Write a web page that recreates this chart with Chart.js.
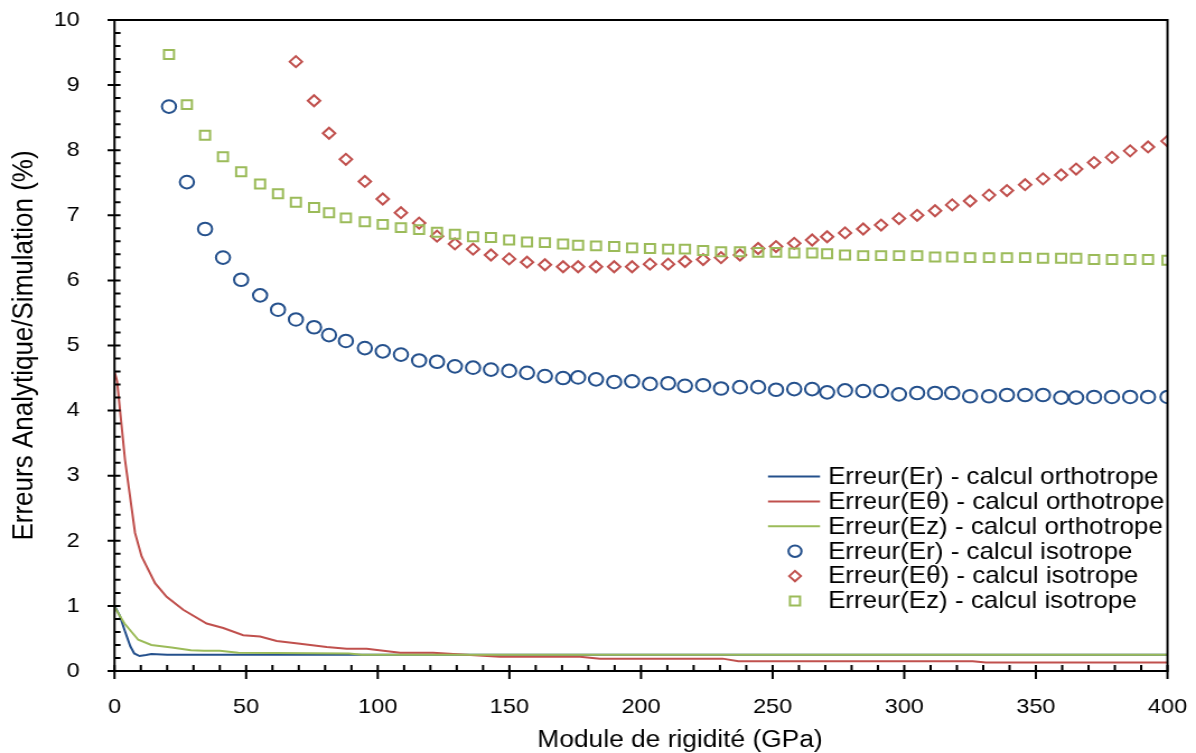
<!DOCTYPE html>
<html>
<head>
<meta charset="utf-8">
<script src="https://cdn.jsdelivr.net/npm/chart.js@4.4.1/dist/chart.umd.min.js"></script>
<style>
  html, body { margin: 0; padding: 0; background: #fff; }
  /* le graphique d'origine est étiré horizontalement, on fait pareil */
  #c { width: 1196px !important; height: 753px !important; display: block; }
</style>
</head>
<body>
<canvas id="c" width="1068" height="753" style="width:1196px;height:753px"></canvas>
<script>
// abscisses des points "isotrope" (GPa)
var isoX = [20.7, 27.5, 34.4, 41.2, 48.1, 55.3, 62.1, 68.9, 75.8, 81.5,
    87.9, 95.1, 101.9, 108.8, 115.7, 122.5, 129.3, 136.2, 143.0, 149.9,
    156.7, 163.5, 170.4, 176.1, 182.9, 189.8, 196.6, 203.4, 210.3, 216.7,
    223.6, 230.4, 237.6, 244.5, 251.3, 258.2, 265.0, 270.7, 277.5, 284.4,
    291.2, 298.0, 304.9, 311.7, 318.2, 325.0, 332.2, 339.0, 345.9, 352.7,
    359.6, 365.3, 372.1, 378.9, 385.8, 392.6, 400];
var isoEr = [8.67, 7.51, 6.79, 6.35, 6.01, 5.77, 5.55, 5.40, 5.28, 5.16,
    5.07, 4.96, 4.91, 4.86, 4.77, 4.75, 4.68, 4.66, 4.63, 4.61,
    4.58, 4.53, 4.50, 4.51, 4.48, 4.44, 4.45, 4.41, 4.42, 4.38,
    4.39, 4.34, 4.36, 4.36, 4.32, 4.33, 4.33, 4.28, 4.31, 4.30,
    4.30, 4.25, 4.27, 4.27, 4.27, 4.22, 4.22, 4.24, 4.24, 4.24,
    4.20, 4.20, 4.21, 4.21, 4.21, 4.21, 4.21];
var isoEth = [null, null, null, null, null, null, null, 9.36, 8.76, 8.26,
    7.86, 7.52, 7.25, 7.04, 6.88, 6.68, 6.56, 6.48, 6.39, 6.33,
    6.28, 6.24, 6.21, 6.21, 6.21, 6.21, 6.21, 6.25, 6.25, 6.29,
    6.32, 6.35, 6.39, 6.49, 6.52, 6.57, 6.62, 6.67, 6.73, 6.79,
    6.85, 6.95, 7.00, 7.07, 7.16, 7.22, 7.31, 7.38, 7.47, 7.56,
    7.62, 7.71, 7.81, 7.89, 7.99, 8.05, 8.14];
var isoEz = [9.47, 8.70, 8.23, 7.90, 7.67, 7.48, 7.33, 7.20, 7.12, 7.04,
    6.96, 6.90, 6.86, 6.81, 6.78, 6.74, 6.71, 6.67, 6.66, 6.62,
    6.59, 6.58, 6.56, 6.54, 6.53, 6.52, 6.50, 6.49, 6.48, 6.48,
    6.46, 6.44, 6.44, 6.43, 6.43, 6.42, 6.42, 6.41, 6.39, 6.38,
    6.38, 6.38, 6.38, 6.36, 6.36, 6.35, 6.35, 6.35, 6.35, 6.34,
    6.34, 6.34, 6.32, 6.32, 6.32, 6.32, 6.31];

// courbes "orthotrope"
var orthoErX = [0, 2, 3.8, 6, 7.5, 9.5, 12, 14, 20, 400];
var orthoErY = [1.00, 0.85, 0.63, 0.38, 0.27, 0.23, 0.245, 0.26, 0.25, 0.25];
var orthoEthX = [0, 1, 4, 7.8, 10.3, 15.4, 19.8, 26.1, 35, 41.3, 48.9, 55.3, 61.6, 70.5,
    80.6, 88.2, 95.8, 108.5, 121, 128.7, 146.4, 176.8, 184.4, 231, 237, 326, 331, 400];
var orthoEthY = [4.6, 4.45, 3.24, 2.12, 1.76, 1.35, 1.14, 0.94, 0.73, 0.66, 0.55, 0.53, 0.46, 0.42,
    0.37, 0.34, 0.34, 0.28, 0.28, 0.26, 0.22, 0.22, 0.19, 0.19, 0.15, 0.15, 0.13, 0.13];
var orthoEzX = [0, 3.8, 9, 14, 21.7, 29, 34, 40, 47, 89, 94, 400];
var orthoEzY = [0.98, 0.73, 0.48, 0.40, 0.36, 0.32, 0.31, 0.31, 0.28, 0.27, 0.25, 0.25];

var xTicks = [0, 50, 100, 150, 200, 250, 300, 350, 400];
var yTicks = [0, 1, 2, 3, 4, 5, 6, 7, 8, 9, 10];

var bleu = '#24508c', rouge = '#c0504d', vert = '#9bbb59';
var police = "'Liberation Sans', Arial, sans-serif";
var sx = 1068 / 1196; // rapport canvas / écran

function pts(xs, ys) {
    var r = [];
    for (var i = 0; i < xs.length; i++) {
        if (ys[i] !== null) r.push({ x: xs[i], y: ys[i] });
    }
    return r;
}

// cadre, graduations, titre X et légende
var cadre = {
    id: 'cadre',
    afterDraw: function (chart) {
        var ctx = chart.ctx, a = chart.chartArea;
        var x = chart.scales.x, y = chart.scales.y;
        ctx.save();
        ctx.strokeStyle = '#000';
        ctx.lineWidth = 2;
        ctx.strokeRect(a.left, a.top, a.right - a.left, a.bottom - a.top);
        ctx.beginPath();
        // graduations Y : majeures 1, mineures 0.2
        for (var k = 0; k <= 50; k++) {
            var py = y.getPixelForValue(k * 0.2);
            var maj = k % 5 === 0;
            ctx.moveTo(a.left - (maj ? 7 * sx : 0), py);
            ctx.lineTo(a.left + 6 * sx, py);
        }
        // graduations X : majeures 50, mineures 10
        for (var j = 0; j <= 40; j++) {
            var px = x.getPixelForValue(j * 10);
            var majx = j % 5 === 0;
            ctx.moveTo(px, a.bottom - 6);
            ctx.lineTo(px, a.bottom + (majx ? 8 : 0));
        }
        ctx.stroke();

        ctx.fillStyle = '#000';
        ctx.font = '23.5px ' + police;
        ctx.textAlign = 'center';
        ctx.textBaseline = 'alphabetic';
        ctx.fillText('Module de rigidité (GPa)', 680 * sx, 747);

        // légende
        var ds = chart.data.datasets;
        var lx0 = 768 * sx, lx1 = 820 * sx, mx = 795 * sx, tx = 828 * sx;
        ctx.font = '23.2px ' + police;
        ctx.textAlign = 'left';
        ctx.textBaseline = 'middle';
        for (var i = 0; i < ds.length; i++) {
            var d = ds[i];
            var ly = 476.5 + i * 24.9;
            ctx.strokeStyle = d.borderColor;
            ctx.lineWidth = 2;
            ctx.beginPath();
            if (d.showLine) {
                ctx.moveTo(lx0, ly);
                ctx.lineTo(lx1, ly);
            } else if (d.pointStyle === 'circle') {
                ctx.arc(mx, ly, 5.8, 0, Math.PI * 2);
            } else if (d.pointStyle === 'rectRot') {
                ctx.moveTo(mx - 5.2, ly); ctx.lineTo(mx, ly - 5.2);
                ctx.lineTo(mx + 5.2, ly); ctx.lineTo(mx, ly + 5.2); ctx.closePath();
            } else {
                ctx.rect(mx - 4.5, ly - 4.5, 9, 9);
            }
            ctx.stroke();
            ctx.fillText(d.label, tx, ly + 1);
        }
        ctx.restore();
    }
};

new Chart(document.getElementById('c'), {
    type: 'scatter',
    data: {
        datasets: [
            { label: 'Erreur(Er) - calcul orthotrope', data: pts(orthoErX, orthoErY), showLine: true,
              borderColor: bleu, borderWidth: 2, pointRadius: 0, order: 6 },
            { label: 'Erreur(E\u03b8) - calcul orthotrope', data: pts(orthoEthX, orthoEthY), showLine: true,
              borderColor: rouge, borderWidth: 2, pointRadius: 0, order: 5 },
            { label: 'Erreur(Ez) - calcul orthotrope', data: pts(orthoEzX, orthoEzY), showLine: true,
              borderColor: vert, borderWidth: 2, pointRadius: 0, order: 4 },
            { label: 'Erreur(Er) - calcul isotrope', data: pts(isoX, isoEr), showLine: false,
              pointStyle: 'circle', pointRadius: 6.3, borderColor: bleu, backgroundColor: 'rgba(0,0,0,0)',
              pointBorderWidth: 2, order: 3 },
            { label: 'Erreur(E\u03b8) - calcul isotrope', data: pts(isoX, isoEth), showLine: false,
              pointStyle: 'rectRot', pointRadius: 5.5, borderColor: rouge, backgroundColor: 'rgba(0,0,0,0)',
              pointBorderWidth: 2, order: 2 },
            { label: 'Erreur(Ez) - calcul isotrope', data: pts(isoX, isoEz), showLine: false,
              pointStyle: 'rect', pointRadius: 6.3, borderColor: vert, backgroundColor: 'rgba(0,0,0,0)',
              pointBorderWidth: 2, order: 1 }
        ]
    },
    options: {
        responsive: false,
        devicePixelRatio: 1,
        animation: false,
        events: [],
        layout: { padding: { top: 20, right: 1068 - 1167.5 * sx, left: 0, bottom: 0 } },
        plugins: { legend: { display: false }, tooltip: { enabled: false } },
        scales: {
            x: {
                type: 'linear', min: 0, max: 400,
                afterFit: function (s) { s.height = 82; s.paddingLeft = 0; s.paddingRight = 0; },
                afterBuildTicks: function (s) { s.ticks = xTicks.map(function (v) { return { value: v }; }); },
                grid: { display: false }, border: { display: false },
                ticks: { color: '#000', font: { family: police, size: 21 }, padding: 16, maxRotation: 0 }
            },
            y: {
                type: 'linear', min: 0, max: 10,
                afterFit: function (s) { s.width = 114.5 * sx; s.paddingTop = 0; s.paddingBottom = 0; },
                afterBuildTicks: function (s) { s.ticks = yTicks.map(function (v) { return { value: v }; }); },
                grid: { display: false }, border: { display: false },
                ticks: { color: '#000', font: { family: police, size: 21 }, padding: 23 },
                title: { display: true, text: 'Erreurs Analytique/Simulation (%)', color: '#000',
                         font: { family: police, size: 26 }, padding: { top: 6, bottom: 0 } }
            }
        }
    },
    plugins: [cadre]
});
</script>
</body>
</html>
